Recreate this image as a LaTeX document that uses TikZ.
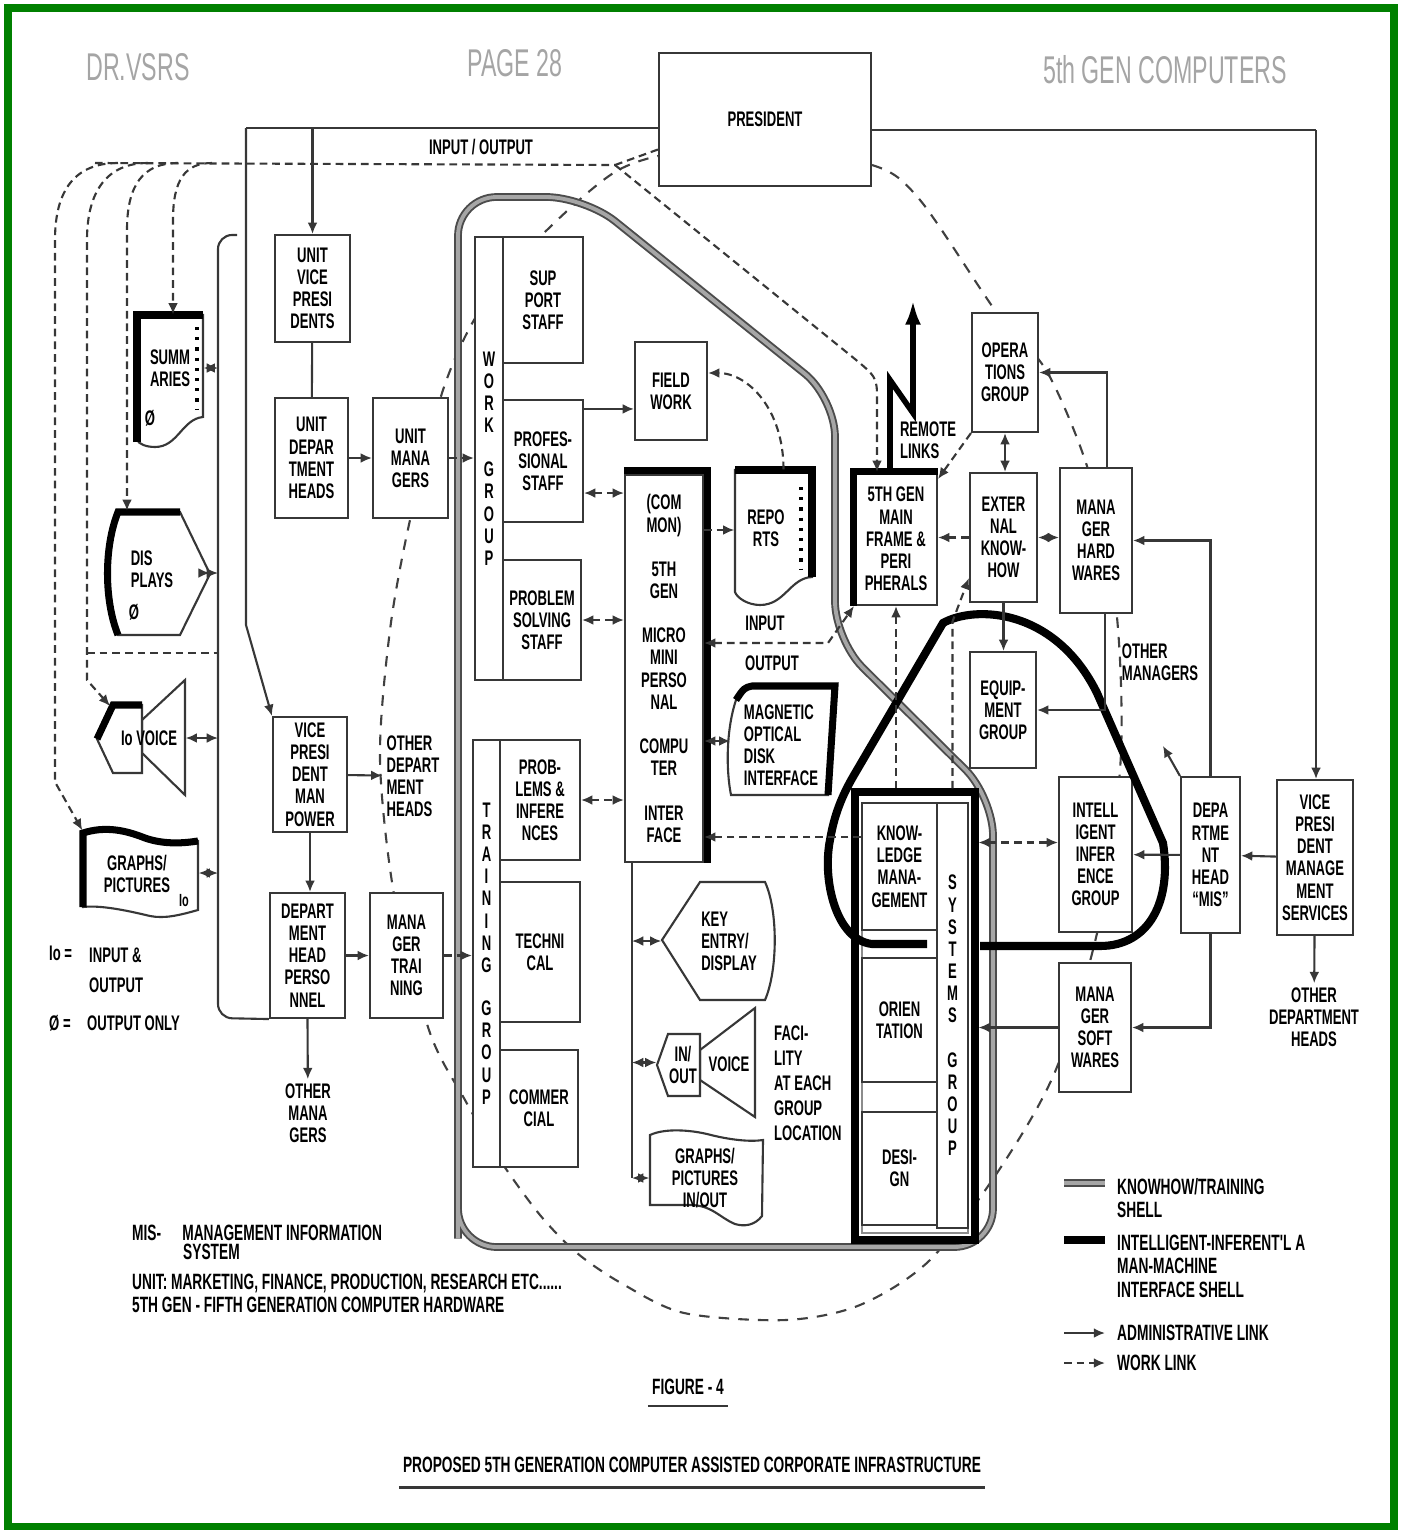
\documentclass[tikz,border=0pt]{standalone}
\usepackage{fontspec}
\usepackage{tikz}
\usetikzlibrary{arrows.meta, calc}
\usepackage{xcolor}
\setmainfont{Liberation Sans}
\newfontfamily\diagfont[FakeStretch=0.62]{Liberation Sans}
\newfontfamily\headfont[FakeStretch=0.6]{Liberation Sans}
\definecolor{framegreen}{RGB}{0,128,0}
\definecolor{headgray}{RGB}{165,165,165}
\definecolor{linegray}{RGB}{55,55,55}
\newcommand{\boxfont}{\diagfont\bfseries\fontsize{6}{6.3}\selectfont}
\newcommand{\notefont}{\diagfont\bfseries\fontsize{6.3}{6.6}\selectfont}
\tikzset{
    box/.style={rectangle, draw=linegray, line width=0.6pt, fill=white,
        inner sep=0pt, align=center, font=\boxfont},
    txt/.style={inner sep=1pt, align=center, font=\boxfont},
    shp/.style={inner sep=0pt},
    sz/.style 2 args={minimum width=#1*0.01cm, minimum height=#2*0.01cm},
    outline/.style={draw=linegray, line width=0.6pt, fill=white},
    heavy/.style={draw=black, line width=2pt},
    plain/.style={draw=linegray, line width=0.6pt},
    adm/.style={-{Latex[length=3.2pt,width=2.8pt]}, draw=linegray, line width=0.6pt},
    admboth/.style={{Latex[length=3.2pt,width=2.8pt]}-{Latex[length=3.2pt,width=2.8pt]},
        draw=linegray, line width=0.6pt},
    wrk/.style={adm, dash pattern=on 2.2pt off 1.4pt},
    wrkboth/.style={admboth, dash pattern=on 2.2pt off 1.4pt},
    kshell/.style={draw=black!70, double=black!35, double distance=1.1pt, line width=0.55pt},
    ishell/.style={draw=black, line width=2.3pt},
    ring/.style={draw=black!75, line width=0.6pt, dash pattern=on 3pt off 2.6pt}
}

\begin{document}
\begin{tikzpicture}[x=0.01cm, y=-0.01cm]
    \useasboundingbox (0,0) rectangle (1401,1533);
    \draw[framegreen, line width=2pt] (8,8) rectangle (1394,1526);

    \node[font=\headfont\fontsize{11}{11}\selectfont, text=headgray] (hdauthor) at (138,67) {DR.VSRS};
    \node[font=\headfont\fontsize{11}{11}\selectfont, text=headgray] (hdpage) at (515,63) {PAGE 28};
    \node[font=\headfont\fontsize{11}{11}\selectfont, text=headgray] (hdtopic) at (1165,70) {5th GEN COMPUTERS};

    % dashed circle and the two shells
    \draw[ring] plot[smooth cycle] coordinates {(760,150) (872,165) (920,200) (997,313) (1046,370)
        (1085,460) (1110,560) (1120,660) (1120,770) (1100,920) (1057,1067) (1001,1167) (930,1260)
        (860,1305) (786,1320) (684,1313) (621,1283) (577,1253) (540,1215) (500,1160) (465,1100)
        (430,1033) (395,900) (380,760) (390,630) (410,520) (443,390) (480,310) (540,237)
        (615,172) (680,152)};
    \draw[kshell, rounded corners=11pt] (458,1200) -- (458,197) -- (585,197) -- (835,398)
        -- (835,640) -- (993,797) -- (993,1247) -- (458,1247) -- cycle;

    \node[box, sz={212}{133}] (president) at (765,119.5) {PRESIDENT};

    \node[box, sz={75}{107}] (uvp) at (312.5,288.5) {UNIT\\VICE\\PRESI\\DENTS};
    \node[box, sz={73}{120}] (udh) at (311.5,458) {UNIT\\DEPAR\\TMENT\\HEADS};
    \node[box, sz={75}{120}] (umg) at (410.5,458) {UNIT\\MANA\\GERS};
    \node[box, sz={74}{115}] (vpm) at (310,774.5) {VICE\\PRESI\\DENT\\MAN\\POWER};
    \node[txt, align=left] (odh) at (413,776) {OTHER\\DEPART\\MENT\\HEADS};
    \node[box, sz={75}{125}] (dhp) at (307.5,955.5) {DEPART\\MENT\\HEAD\\PERSO\\NNEL};
    \node[box, sz={73}{125}] (mtr) at (406.5,955.5) {MANA\\GER\\TRAI\\NING};
    \node[txt] (omg) at (308,1113) {OTHER\\MANA\\GERS};

    \node[box, sz={28}{443}] (wgcol) at (489,458.5) {W\\O\\R\\K\\[6.3pt]G\\R\\O\\U\\P};
    \node[box, sz={80}{126}] (sup) at (543,300) {SUP\\PORT\\STAFF};
    \node[box, sz={80}{122}] (prof) at (543,461) {PROFES-\\SIONAL\\STAFF};
    \node[box, sz={78}{120}] (prob) at (542,620) {PROBLEM\\SOLVING\\STAFF};

    \node[box, sz={27}{427}] (tgcol) at (486.5,953.5) {T\\R\\A\\I\\N\\I\\N\\G\\[6pt]G\\R\\O\\U\\P};
    \node[box, sz={80}{120}] (pinf) at (540,800) {PROB-\\LEMS \&\\INFERE\\NCES};
    \node[box, sz={80}{140}] (tech) at (540,952) {TECHNI\\CAL};
    \node[box, sz={78}{117}] (comm) at (539,1108.5) {COMMER\\CIAL};

    \node[box, sz={72}{98}] (field) at (671,391) {FIELD\\WORK};
    \node[box, sz={78}{387}] (common) at (664,668.5) {(COM\\MON)\\[6.3pt]5TH\\GEN\\[6.3pt]MICRO\\MINI\\PERSO\\NAL\\[6.3pt]COMPU\\TER\\[6.3pt]INTER\\FACE};
    \draw[heavy] ([yshift=0.03cm]common.north west) -- ([shift={(0.03cm,0.03cm)}]common.north east) -- ([xshift=0.03cm]common.south east);

    \draw[outline] (735,470) -- (812,470) -- (812,577) .. controls (790,578) and (785,605) .. (760,605)
        .. controls (748,605) and (737,598) .. (735,592) -- cycle;
    \node[shp, sz={77}{120}] (reports) at (773.5,530) {};
    \node[txt] (reportstxt) at (766,528) {REPO\\RTS};
    \draw[heavy] (735,470) -- (812,470) -- (812,577);
    \draw[dotted, line width=0.9pt] (801,487) -- (801,570);

    \draw[outline] (736,700) .. controls (726,730) and (726,770) .. (731,795) -- (828,795) -- (835,686)
        -- (752,686) .. controls (744,688) .. (736,700) -- cycle;
    \node[shp, sz={100}{110}] (magdisk) at (781,741) {};
    \node[txt, align=left] (magdisktxt) at (781,745) {MAGNETIC\\OPTICAL\\DISK\\INTERFACE};
    \draw[heavy] (736,700) .. controls (744,688) .. (752,686) -- (835,686) -- (828,795);

    \draw[outline] (662,940) -- (700,882) -- (765,882) .. controls (778,910) and (778,970) .. (765,1000)
        -- (700,1000) -- cycle;
    \node[shp, sz={111}{118}] (keyent) at (717.5,941) {};
    \node[txt, align=left] (keyenttxt) at (729,941) {KEY\\ENTRY/\\DISPLAY};

    \draw[outline] (700,1050) -- (755,1008) -- (755,1117) -- (700,1080) -- cycle;
    \draw[outline] (657,1065) -- (668,1034) -- (700,1034) -- (700,1096) -- (668,1096) -- cycle;
    \node[shp, sz={98}{109}] (voiceR) at (706,1062.5) {};
    \node[txt] (voiceRio) at (683,1065) {IN/\\OUT};
    \node[txt] (voiceRtxt) at (729,1064) {VOICE};

    \draw[outline] (650,1135) .. controls (665,1128) and (690,1130) .. (707,1134) .. controls (730,1140) and (750,1142) .. (763,1140)
        -- (762,1216) .. controls (755,1225) and (745,1227) .. (735,1224) .. controls (720,1218) and (712,1205) .. (690,1205)
        -- (650,1205) -- cycle;
    \node[shp, sz={113}{90}] (graphsR) at (706.5,1178) {};
    \node[txt] (graphsRtxt) at (705,1178) {GRAPHS/\\PICTURES\\IN/OUT};
    \node[txt, align=left, anchor=west, font=\diagfont\bfseries\fontsize{6}{7.1}\selectfont] (facil) at (770,1083) {FACI-\\LITY\\AT EACH\\GROUP\\LOCATION};

    \node[box, sz={82}{132}] (main) at (896,539) {5TH GEN\\MAIN\\FRAME \&\\PERI\\PHERALS};
    \draw[heavy] (main.south west) -- (main.north west) -- (main.north east);
    \node[box, sz={66}{119}] (ops) at (1005,372.5) {OPERA\\TIONS\\GROUP};
    \node[box, sz={67}{129}] (ext) at (1003.5,537.5) {EXTER\\NAL\\KNOW-\\HOW};
    \node[box, sz={66}{116}] (eqp) at (1003,710) {EQUIP-\\MENT\\GROUP};
    \node[box, sz={72}{145}] (mhw) at (1096,540.5) {MANA\\GER\\HARD\\WARES};
    \node[box, sz={73}{155}] (intel) at (1095.5,854.5) {INTELL\\IGENT\\INFER\\ENCE\\GROUP};
    \node[box, sz={72}{129}] (msw) at (1095,1027.5) {MANA\\GER\\SOFT\\WARES};
    \node[box, sz={59}{156}] (dhm) at (1210.5,855) {DEPA\\RTME\\NT\\HEAD\\“MIS”};
    \node[box, sz={76}{155}] (vpms) at (1315,857.5) {VICE\\PRESI\\DENT\\MANAGE\\MENT\\SERVICES};
    \node[txt] (odh2) at (1314,1017) {OTHER\\DEPARTMENT\\HEADS};
    \node[txt, align=left] (omgr) at (1160,662) {OTHER\\MANAGERS};
    \node[txt, align=left] (rlinks) at (928,440) {REMOTE\\LINKS};

    \node[box, draw=black, line width=2pt, sz={120}{448}] (sysbox) at (915,1016) {};
    \draw[plain, draw=black!45] (862,803) rectangle (968,1233);
    \node[box, sz={75}{127}] (know) at (899.5,866.5) {KNOW-\\LEDGE\\MANA-\\GEMENT};
    \node[box, sz={75}{124}] (orient) at (899.5,1020) {ORIEN\\TATION};
    \node[box, sz={75}{113}] (design) at (899.5,1168.5) {DESI-\\GN};
    \node[box, sz={31}{425}] (syscol) at (952.5,1015.5) {S\\Y\\S\\T\\E\\M\\S\\[6.3pt]G\\R\\O\\U\\P};

    \draw[ishell] (927,944) -- (872,944) .. controls (836,940) and (822,880) .. (830,840)
        .. controls (835,810) and (845,790) .. (857,770) -- (943,623)
        .. controls (975,605) and (1055,608) .. (1097,693) -- (1163,843)
        .. controls (1172,900) and (1150,946) .. (1100,946) -- (980,946);

    % input / output devices on the left
    \draw[outline] (137,315) -- (203,315) -- (203,417) .. controls (182,419) and (178,447) .. (155,447)
        .. controls (146,447) and (139,444) .. (137,440) -- cycle;
    \node[shp, sz={66}{106}] (summ) at (170,368) {};
    \node[txt] (summtxt) at (170,368) {SUMM\\ARIES};
    \node[txt] (summo) at (150,418) {Ø};
    \draw[heavy] (137,442) -- (137,315) -- (203,315);
    \draw[dotted, line width=0.9pt] (197,327) -- (197,410);

    \draw[outline] (118,512) -- (180,512) -- (210,574) -- (180,635) -- (118,635)
        .. controls (104,600) and (104,547) .. (118,512) -- cycle;
    \node[shp, sz={102}{123}] (disp) at (158,573) {};
    \node[txt, align=left] (disptxt) at (152,569) {DIS\\PLAYS};
    \node[txt] (dispo) at (134,612) {Ø};
    \draw[heavy] (118,635) .. controls (104,600) and (104,547) .. (118,512) -- (180,512);

    \draw[outline] (142,720) -- (185,680) -- (185,795) -- (142,753) -- cycle;
    \draw[outline] (97,739) -- (113,705) -- (142,705) -- (142,773) -- (113,773) -- cycle;
    \draw[heavy] (97,739) -- (113,705) -- (142,705);
    \node[shp, sz={88}{115}] (voiceL) at (141,738) {};
    \node[txt] (voiceLtxt) at (149,738) {Io VOICE};

    \draw[outline] (83,833) .. controls (105,826) and (125,830) .. (145,838) .. controls (165,845) and (185,843) .. (198,841)
        -- (198,910) .. controls (180,915) and (165,919) .. (150,916) .. controls (125,910) and (100,905) .. (83,907) -- cycle;
    \draw[heavy] (83,907) -- (83,833) .. controls (105,826) and (125,830) .. (145,838) .. controls (165,845) and (185,843) .. (198,841);
    \node[shp, sz={115}{84}] (graphsL) at (140.5,873) {};
    \node[txt] (graphsLtxt) at (137,874) {GRAPHS/\\PICTURES};
    \node[txt, font=\diagfont\bfseries\fontsize{5}{5}\selectfont] (graphsLio) at (184,901) {Io};

    \coordinate (tl) at (246,128);
    \coordinate (tlbend) at (246,625);
    \coordinate (tr) at (1316,130);
    \coordinate (fr1) at (237,235);
    \coordinate (fr2) at (218,235);
    \coordinate (fr3) at (218,1018);
    \coordinate (io0) at (95,163);
    \coordinate (iox) at (615,165);
    \coordinate (c1) at (118,163);
    \coordinate (c2) at (148,163);
    \coordinate (c3) at (178,163);
    \coordinate (c4) at (212,163);
    \coordinate (vtl) at (110,706);
    \coordinate (d653) at (87,653);
    \coordinate (bus) at (632,1178);
    \coordinate (ioc) at (828,643);
    \coordinate (rl1) at (890,380);
    \coordinate (rl2) at (913,413);
    \coordinate (rl3) at (913,300);

    % administrative links
    \draw[plain] (president.west |- tl) -- (tl);
    \draw[adm] (tl) -- (tlbend) -- (vpm.north west);
    \draw[adm] (uvp.north |- tl) -- (uvp.north);
    \draw[plain] (uvp) -- (udh);
    \draw[adm] (udh) -- (umg);
    \draw[adm] (vpm) -- (odh);
    \draw[adm] (vpm.south) -- (vpm.south |- dhp.north);
    \draw[adm] (dhp) -- (mtr);
    \draw[adm] (dhp.south) -- (omg);
    \draw[plain, rounded corners=4pt] (fr1) -- (fr2) -- (fr3) -- (dhp.south west);
    \draw[admboth] (summ.east) -- (summ.east -| fr2);
    \draw[admboth] (disp.east) -- (disp.east -| fr2);
    \draw[admboth] (voiceL.east) -- (voiceL.east -| fr2);
    \draw[admboth] (graphsL.east) -- (graphsL.east -| fr2);
    \draw[plain] (president.east |- tr) -- (tr);
    \draw[adm] (tr) -- (tr |- vpms.north);
    \draw[adm] (vpms) -- (dhm);
    \draw[adm] (vpms) -- (odh2);
    \draw[adm] (dhm.north) |- (mhw.east);
    \draw[adm] (dhm.north west) -- ++(-17,-30);
    \draw[adm] (dhm) -- (intel);
    \draw[adm] (dhm.south) |- (msw.east);
    \draw[adm] ([xshift=0.11cm]mhw.north) |- (ops.east);
    \draw[adm] ([xshift=0.09cm]mhw.south) |- (eqp.east);
    \draw[admboth] (ext.east) -- (ext.east -| mhw.west);
    \draw[admboth] (ops.south) -- (ops.south |- ext.north);
    \draw[adm] (ext.south) -- (ext.south |- eqp.north);
    \draw[adm] (msw.west) -- (msw.west -| sysbox.east);
    \draw[adm] ([yshift=-0.1cm]prof.north east) -- ([yshift=-0.1cm]prof.north east -| field.west);
    \draw[admboth] (magdisk.west -| common.east) -- (magdisk.west);
    \draw[plain] (common.south -| bus) -- (bus);
    \draw[admboth] (keyent.west -| bus) -- (keyent.west);
    \draw[admboth] (voiceR.west -| bus) -- (voiceR.west);
    \draw[admboth] (bus) -- (graphsR.west);
    \draw[draw=black, line width=1.6pt, -{Latex[length=7pt,width=4.5pt]}] (main.north -| rl1) -- (rl1) -- (rl2) -- (rl3);

    % work links
    \draw[wrk, -] (io0) -- (iox);
    \draw[wrk, -] (iox) -- ([yshift=-0.3cm]president.west);
    \draw[wrk] (iox) -- (850,355) .. controls (877,377) .. (877,400) -- ([xshift=-0.19cm]main.north);
    \draw[wrk] (c1) .. controls (75,163) and (55,190) .. (55,240) -- (55,782) -- (graphsL.north west);
    \draw[wrk] (c2) .. controls (108,163) and (87,190) .. (87,240) -- (87,680) -- (vtl);
    \draw[wrk] (c3) .. controls (143,163) and (127,185) .. (127,230) -- ([xshift=-0.31cm]disp.north);
    \draw[wrk] (c4) .. controls (185,163) and (173,180) .. (173,220) -- ([xshift=0.03cm]summ.north);
    \draw[wrk, -] (d653) -- (d653 -| fr2);
    \draw[wrk] (umg.east) -- (umg.east -| wgcol.west);
    \draw[wrk] (mtr.east) -- (mtr.east -| tgcol.west);
    \draw[wrkboth] ([yshift=-0.32cm]prof.east) -- ([yshift=-0.32cm]prof.east -| common.west);
    \draw[wrkboth] (prob.east) -- (prob.east -| common.west);
    \draw[wrkboth] (pinf.east) -- (pinf.east -| common.west);
    \draw[wrk] (common.east |- reports.west) -- (reports.west);
    \draw[wrk] ([xshift=0.1cm]reports.north) .. controls +(0,-60) and +(40,0) .. ([yshift=0.18cm]field.east);
    \draw[wrkboth] (common.east |- ioc) -- (ioc) -- (main.south west);
    \node[txt] (iotop) at (481,147) {INPUT / OUTPUT};
    \node[txt] (iolbl1) at (765,623) {INPUT};
    \node[txt] (iolbl2) at (772,663) {OUTPUT};
    \draw[wrk] ([yshift=0.295cm]know.west) -- ([yshift=0.295cm]know.west -| common.east);
    \draw[wrk] (main.south |- sysbox.north) -- (main.south);
    \draw[wrk] (syscol.north |- sysbox.north) -- ++(0,-167) -- ([yshift=0.25cm]ext.south west);
    \draw[wrk] (ops.south west) -- ([yshift=-0.07cm]main.north east);
    \draw[wrk] (ext.west) -- (ext.west -| main.east);
    \draw[wrkboth] ([yshift=0.12cm]intel.west -| sysbox.east) -- ([yshift=0.12cm]intel.west);

    % legends and notes
    \node[txt, anchor=west] (lgio) at (45,953) {Io =};
    \node[txt, anchor=north west, align=left] (lgiotxt) at (85,944) {INPUT \&\\[2pt]OUTPUT};
    \node[txt, anchor=west] (lgo) at (45,1023) {Ø =};
    \node[txt, anchor=west] (lgotxt) at (83,1023) {OUTPUT ONLY};

    \node[txt, font=\notefont, anchor=west] (fnmis) at (128,1233) {MIS-\hspace{6pt}MANAGEMENT INFORMATION};
    \node[txt, font=\notefont, anchor=west] (fnsys) at (179,1252) {SYSTEM};
    \node[txt, font=\notefont, anchor=west] (fnunit) at (128,1283) {UNIT: MARKETING, FINANCE, PRODUCTION, RESEARCH ETC......};
    \node[txt, font=\notefont, anchor=west] (fngen) at (128,1305) {5TH GEN - FIFTH GENERATION COMPUTER HARDWARE};
    \node[txt, font=\notefont] (figno) at (688,1387) {FIGURE - 4};
    \draw[plain] ([yshift=-2pt]figno.south west) -- ([yshift=-2pt]figno.south east);
    \node[txt, font=\notefont] (title) at (692,1465) {PROPOSED 5TH GENERATION COMPUTER ASSISTED CORPORATE INFRASTRUCTURE};
    \draw[plain, line width=0.8pt] ([yshift=-3pt]title.south west) -- ([yshift=-3pt]title.south east);

    \coordinate (lk1) at (1064,1183);
    \coordinate (lk2) at (1105,1183);
    \coordinate (li1) at (1064,1240);
    \coordinate (li2) at (1105,1240);
    \coordinate (la1) at (1064,1333);
    \coordinate (la2) at (1105,1333);
    \coordinate (lw1) at (1064,1363);
    \coordinate (lw2) at (1105,1363);
    \draw[kshell] (lk1) -- (lk2);
    \draw[ishell] (li1) -- (li2);
    \draw[adm] (la1) -- (la2);
    \draw[wrk] (lw1) -- (lw2);
    \node[txt, font=\notefont, anchor=north west, align=left] (lgk) at (1113,1174) {KNOWHOW/TRAINING\\SHELL};
    \node[txt, font=\notefont, anchor=north west, align=left] (lgi) at (1113,1231) {INTELLIGENT-INFERENT'L A\\MAN-MACHINE\\INTERFACE SHELL};
    \node[txt, font=\notefont, anchor=west] (lga) at (1113,1333) {ADMINISTRATIVE LINK};
    \node[txt, font=\notefont, anchor=west] (lgw) at (1113,1363) {WORK LINK};

\end{tikzpicture}
\end{document}
